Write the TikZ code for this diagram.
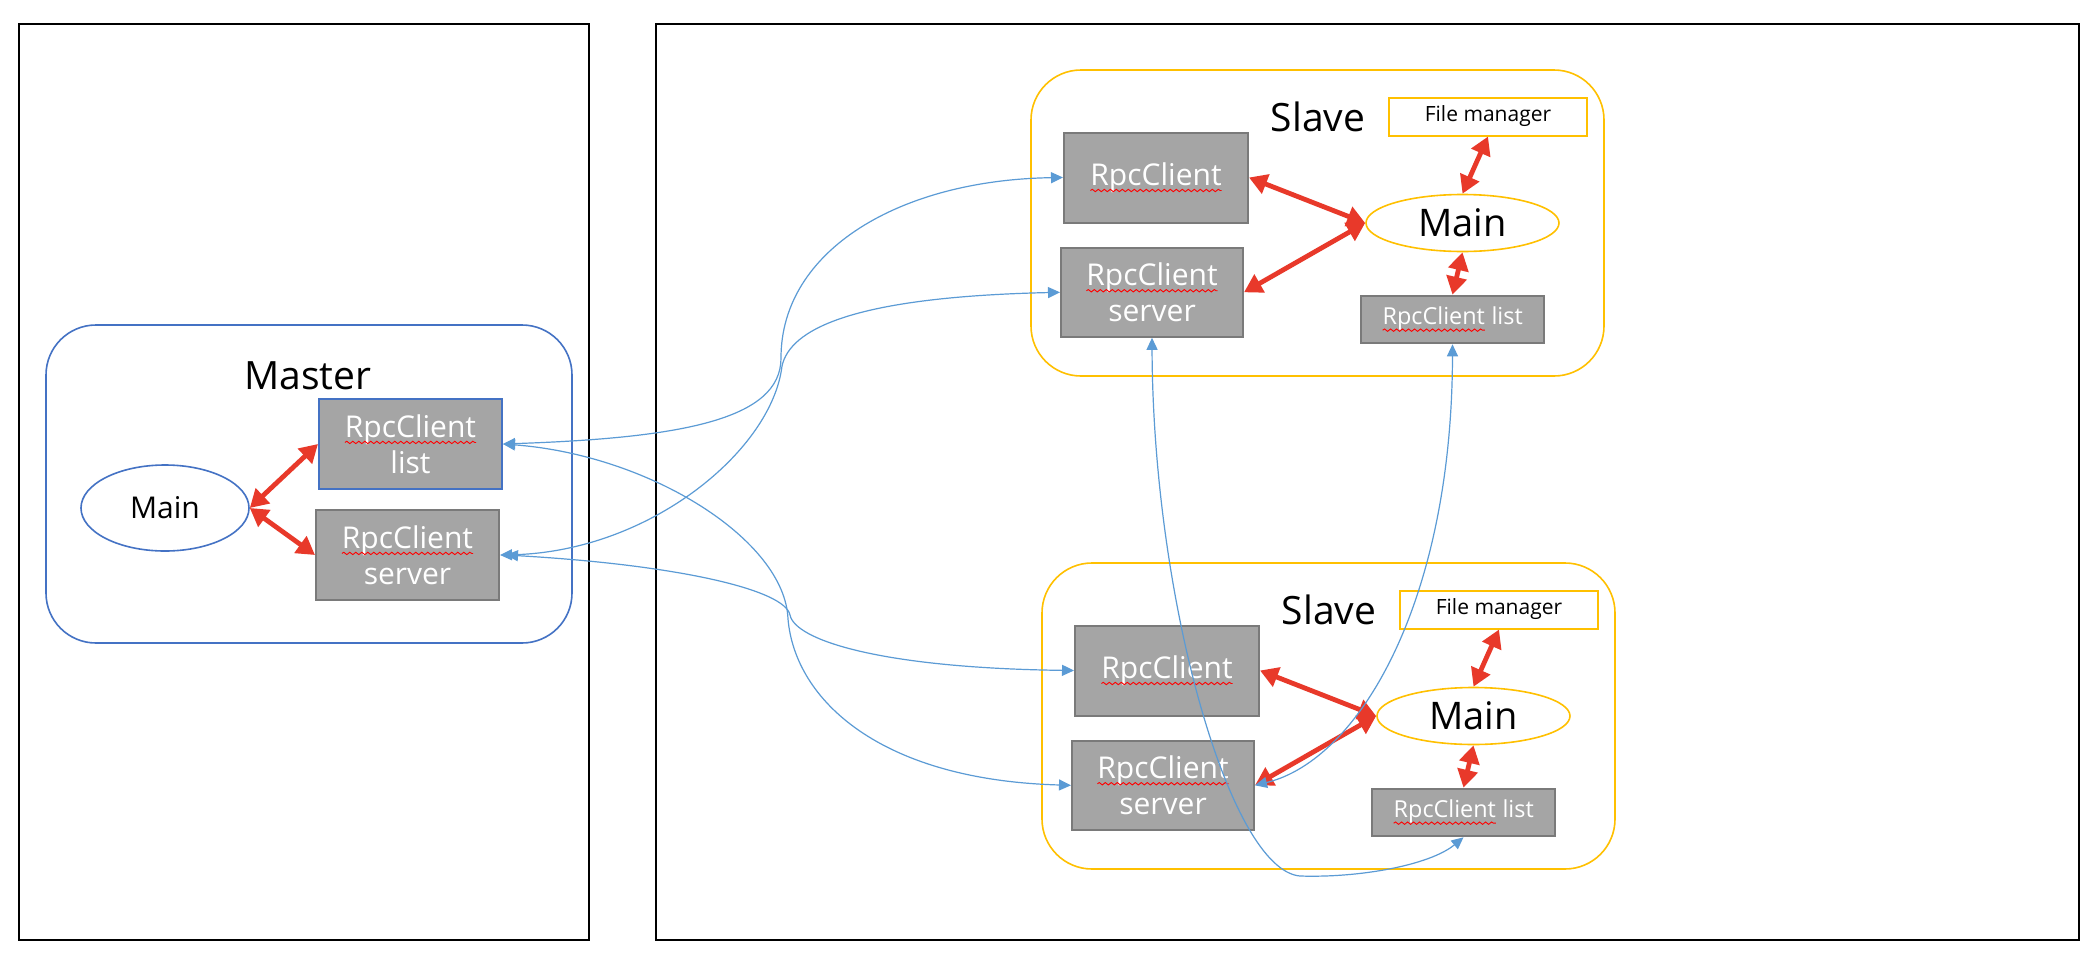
\documentclass[tikz,border=0pt]{standalone}
\usepackage{fontspec}
\setmainfont{Open Sans}
\usetikzlibrary{arrows.meta,shapes.geometric,decorations.pathmorphing}
\definecolor{gbox}{HTML}{A5A5A5}
\definecolor{gline}{HTML}{7A7A7A}
\definecolor{mblue}{HTML}{4472C4}
\definecolor{cblue}{HTML}{5B9BD5}
\definecolor{sorange}{HTML}{FFC000}
\definecolor{rred}{HTML}{E8392A}

\newcommand{\rpcw}{\tikz[baseline=(rw.base)]{\node[shape=rectangle,draw=none,fill=none,inner sep=0pt,outer sep=0pt,minimum width=0pt,minimum height=0pt,text=white](rw){RpcClient};\draw[red,line width=0.45pt,decorate,decoration={snake,amplitude=0.6pt,segment length=3pt}] ([yshift=-2.6pt]rw.base west) -- ([yshift=-2.6pt]rw.base east);}}

\tikzset{
  frame/.style={draw=black,line width=1pt},
  grp/.style={draw=#1,line width=0.8pt,rounded corners=25pt,inner sep=0pt},
  gbx/.style={draw=gline,fill=gbox,line width=1pt,text=white,inner sep=0pt,align=center,font=\fontsize{15}{18}\selectfont},
  fmbox/.style={draw=sorange,fill=white,line width=1pt,inner sep=0pt,font=\fontsize{10.5}{12}\selectfont},
  ell/.style={ellipse,line width=0.8pt,inner sep=0pt},
  title/.style={inner sep=0pt,font=\fontsize{19.5}{23}\selectfont},
  rarrow/.style={draw=rred,line width=2.4pt,{Triangle[length=9pt,width=10pt]}-{Triangle[length=9pt,width=10pt]}},
  carrow/.style={draw=cblue,line width=0.6pt,{Triangle[length=6pt,width=5.5pt]}-{Triangle[length=6pt,width=5.5pt]}}
}

\newcommand{\slavegroup}[3]{%
\begin{scope}[shift={(#2,#3)}]
  \node[grp=sorange,minimum width=286.5pt,minimum height=153pt] (#1box) at (1317.5,223) {};
  \node[title] (#1title) at (1318,117) {Slave};
  \node[fmbox,minimum width=99pt,minimum height=19pt] (#1fm) at (1488,116.5) {File manager};
  \node[gbx,minimum width=92pt,minimum height=45pt] (#1rpc) at (1156,177.5) {\rpcw};
  \node[gbx,minimum width=91pt,minimum height=44.5pt] (#1srv) at (1152,292.3) {\rpcw\\server};
  \node[ell,draw=sorange,minimum width=96.5pt,minimum height=28.5pt,font=\fontsize{19}{22}\selectfont] (#1main) at (1462.5,223) {Main};
  \node[gbx,minimum width=91.5pt,minimum height=23.8pt,font=\fontsize{11.7}{14}\selectfont] (#1list) at (1452.5,319.5) {\rpcw{} list};
\end{scope}
\draw[rarrow] (#1rpc.east) -- (#1main.west);
\draw[rarrow] (#1srv.east) -- (#1main.west);
\draw[rarrow] (#1fm.south) -- (#1main.north);
\draw[rarrow] (#1main.south) -- (#1list.north);
}

\begin{document}
\begin{tikzpicture}[x=0.5pt,y=-0.5pt]
\useasboundingbox (0,0) rectangle (2100,964);
\fill[white] (0,0) rectangle (2100,964);

% outer frames
\node[frame,inner sep=0pt,minimum width=285pt,minimum height=458pt] (leftframe) at (304,482) {};
\node[frame,inner sep=0pt,minimum width=711.5pt,minimum height=458pt] (rightframe) at (1367.5,482) {};

% master
\node[grp=mblue,minimum width=263pt,minimum height=159pt] (mbox) at (309,484) {};
\node[title] (mtitle) at (308,376) {Master};
\node[ell,draw=mblue,minimum width=84pt,minimum height=43pt,font=\fontsize{15}{18}\selectfont] (mmain) at (165,508) {Main};
\node[gbx,draw=mblue,minimum width=91.5pt,minimum height=45pt] (mlist) at (410.5,444) {\rpcw\\list};
\node[gbx,minimum width=91.5pt,minimum height=45pt] (msrv) at (407.5,555) {\rpcw\\server};
\draw[rarrow] (mmain.east) -- (mlist.west);
\draw[rarrow] (mmain.east) -- (msrv.west);

% slaves
\slavegroup{s1}{0}{0}
\slavegroup{s2}{11}{493}

% connectors
\draw[carrow] (mlist.east) .. controls (680,438) and (781,420) .. (781,358) .. controls (781,250) and (900,180) .. (s1rpc.west);
\draw[carrow] (msrv.east) .. controls (650,552) and (772,450) .. (782,366) .. controls (790,330) and (850,297) .. (s1srv.west);
\draw[carrow] ([xshift=3pt]msrv.east) .. controls (680,565) and (785,590) .. (790,615) .. controls (795,640) and (880,668) .. (s2rpc.west);
\draw[carrow] (mlist.east) .. controls (650,455) and (785,540) .. (788,619) .. controls (795,700) and (880,780) .. (s2srv.west);
\draw[carrow] (s1list.south) .. controls (1452,600) and (1360,760) .. (s2srv.east);
\draw[carrow] (s1srv.south) .. controls (1153,600) and (1230,870) .. (1300,876) .. controls (1360,878) and (1430,865) .. (s2list.south);
\end{tikzpicture}
\end{document}
